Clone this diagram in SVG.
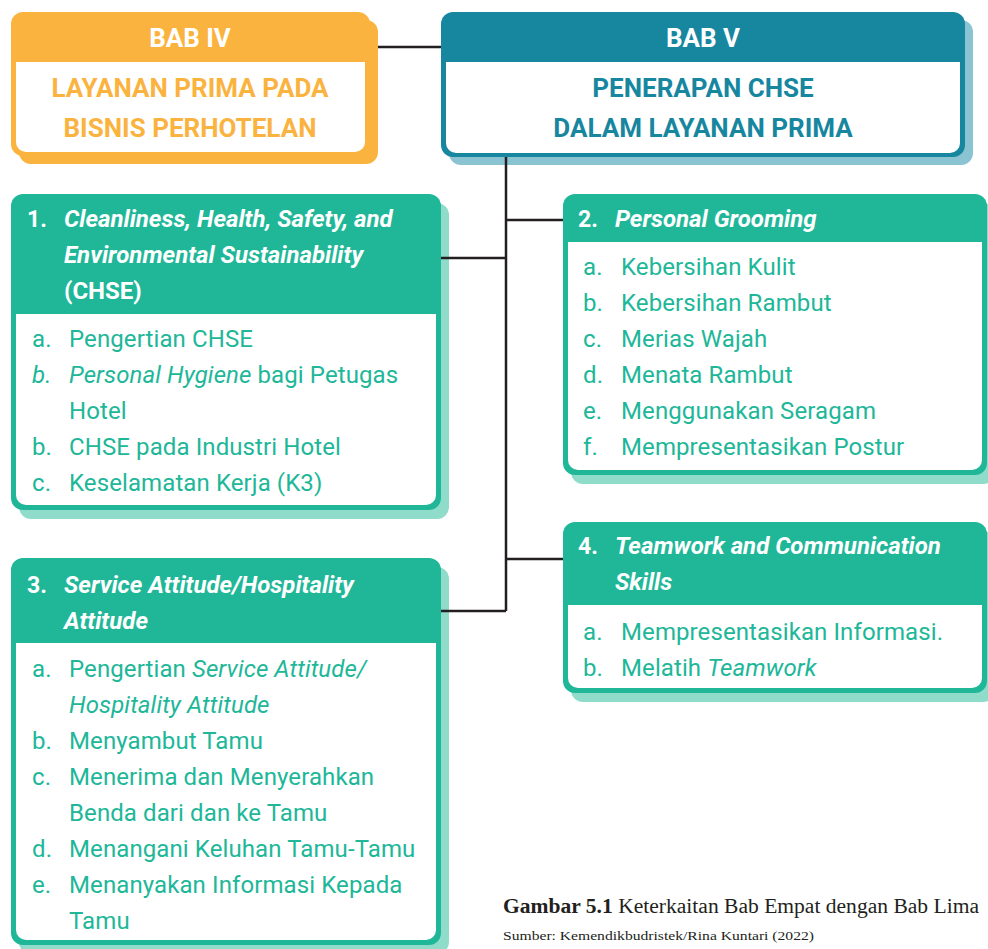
<svg xmlns="http://www.w3.org/2000/svg" width="988" height="949" viewBox="0 0 988 949">
  <style>
    .hdr { font-family: Roboto, "Noto Sans", sans-serif; font-weight: 700; font-size: 26px; text-anchor: middle; }
    .hw { fill: #ffffff; }
    .num { font-family: Roboto, "Noto Sans", sans-serif; font-weight: 700; font-size: 23px; fill: #ffffff; }
    .ttl { font-family: Roboto, "Noto Sans", sans-serif; font-weight: 700; font-style: italic; font-size: 24px; fill: #ffffff; }
    .up { font-style: normal; }
    .it { font-family: Roboto, "Noto Sans", sans-serif; font-size: 24px; letter-spacing: 0.1px; fill: #20B799; }
    .i { font-style: italic; }
    .conn { stroke: #231F20; stroke-width: 2.5; fill: none; }
    .cap { font-family: "Liberation Serif", "DejaVu Serif", serif; fill: #231F20; }
  </style>

  <!-- BAB IV -->
  <g id="bab4">
    <rect x="19" y="20" width="359" height="144" rx="12" fill="#FBB33F"/>
    <rect x="11" y="12" width="359" height="144" rx="12" fill="#FBB33F"/>
    <path d="M16,62 H365 V142 A10,10 0 0 1 355,152 H26 A10,10 0 0 1 16,142 Z" fill="#ffffff"/>
    <text class="hdr hw" x="190" y="47">BAB IV</text>
    <text class="hdr" x="190" y="97" fill="#FBB33F">LAYANAN PRIMA PADA</text>
    <text class="hdr" x="190" y="137" fill="#FBB33F">BISNIS PERHOTELAN</text>
  </g>

  <!-- BAB V -->
  <g id="bab5">
    <rect x="449" y="20" width="524" height="145" rx="12" fill="#8AC3D2"/>
    <rect x="441" y="12" width="524" height="145" rx="12" fill="#17869F"/>
    <path d="M446,62 H960 V143 A10,10 0 0 1 950,153 H456 A10,10 0 0 1 446,143 Z" fill="#ffffff"/>
    <text class="hdr hw" x="703" y="47">BAB V</text>
    <text class="hdr" x="703" y="97" fill="#17869F">PENERAPAN CHSE</text>
    <text class="hdr" x="703" y="137" fill="#17869F">DALAM LAYANAN PRIMA</text>
  </g>

  <!-- 1. CHSE -->
  <g id="topic1">
    <rect x="19" y="203" width="430" height="316" rx="12" fill="#8FDCCA"/>
    <rect x="11" y="194" width="430" height="316" rx="12" fill="#20B799"/>
    <path d="M16,314 H436 V495 A10,10 0 0 1 426,505 H26 A10,10 0 0 1 16,495 Z" fill="#ffffff"/>
    <text class="num" x="27" y="227">1.</text>
    <text class="ttl" x="64" y="227">Cleanliness, Health, Safety, and</text>
    <text class="ttl" x="64" y="263">Environmental Sustainability</text>
    <text class="ttl up" x="64" y="299">(CHSE)</text>
    <text class="it" x="32" y="347">a.</text>
    <text class="it" x="69" y="347">Pengertian CHSE</text>
    <text class="it i" x="32" y="383">b.</text>
    <text class="it" x="69" y="383"><tspan class="i">Personal Hygiene</tspan> bagi Petugas</text>
    <text class="it" x="69" y="419">Hotel</text>
    <text class="it" x="32" y="455">b.</text>
    <text class="it" x="69" y="455">CHSE pada Industri Hotel</text>
    <text class="it" x="32" y="491">c.</text>
    <text class="it" x="69" y="491">Keselamatan Kerja (K3)</text>
  </g>

  <!-- 2. Personal Grooming -->
  <g id="topic2">
    <rect x="571" y="203" width="424" height="281" rx="12" fill="#8FDCCA"/>
    <rect x="563" y="194" width="424" height="281" rx="12" fill="#20B799"/>
    <path d="M568,242 H982 V460 A10,10 0 0 1 972,470 H578 A10,10 0 0 1 568,460 Z" fill="#ffffff"/>
    <text class="num" x="578" y="227">2.</text>
    <text class="ttl" x="615" y="227">Personal Grooming</text>
    <text class="it" x="583" y="275">a.</text>
    <text class="it" x="621" y="275">Kebersihan Kulit</text>
    <text class="it" x="583" y="311">b.</text>
    <text class="it" x="621" y="311">Kebersihan Rambut</text>
    <text class="it" x="583" y="347">c.</text>
    <text class="it" x="621" y="347">Merias Wajah</text>
    <text class="it" x="583" y="383">d.</text>
    <text class="it" x="621" y="383">Menata Rambut</text>
    <text class="it" x="583" y="419">e.</text>
    <text class="it" x="621" y="419">Menggunakan Seragam</text>
    <text class="it" x="583" y="455">f.</text>
    <text class="it" x="621" y="455">Mempresentasikan Postur</text>
  </g>

  <!-- 3. Service Attitude -->
  <g id="topic3">
    <rect x="19" y="567" width="430" height="387" rx="12" fill="#8FDCCA"/>
    <rect x="11" y="558" width="430" height="387" rx="12" fill="#20B799"/>
    <path d="M16,643 H436 V930 A10,10 0 0 1 426,940 H26 A10,10 0 0 1 16,930 Z" fill="#ffffff"/>
    <text class="num" x="27" y="593">3.</text>
    <text class="ttl" x="64" y="593">Service Attitude/Hospitality</text>
    <text class="ttl" x="64" y="629">Attitude</text>
    <text class="it" x="32" y="677">a.</text>
    <text class="it" x="69" y="677">Pengertian <tspan class="i">Service Attitude/</tspan></text>
    <text class="it i" x="69" y="713">Hospitality Attitude</text>
    <text class="it" x="32" y="749">b.</text>
    <text class="it" x="69" y="749">Menyambut Tamu</text>
    <text class="it" x="32" y="785">c.</text>
    <text class="it" x="69" y="785">Menerima dan Menyerahkan</text>
    <text class="it" x="69" y="821">Benda dari dan ke Tamu</text>
    <text class="it" x="32" y="857">d.</text>
    <text class="it" x="69" y="857">Menangani Keluhan Tamu-Tamu</text>
    <text class="it" x="32" y="893">e.</text>
    <text class="it" x="69" y="893">Menanyakan Informasi Kepada</text>
    <text class="it" x="69" y="929">Tamu</text>
  </g>

  <!-- 4. Teamwork -->
  <g id="topic4">
    <rect x="571" y="531" width="424" height="171" rx="12" fill="#8FDCCA"/>
    <rect x="563" y="522" width="424" height="171" rx="12" fill="#20B799"/>
    <path d="M568,605 H982 V678 A10,10 0 0 1 972,688 H578 A10,10 0 0 1 568,678 Z" fill="#ffffff"/>
    <text class="num" x="578" y="554">4.</text>
    <text class="ttl" x="615" y="554">Teamwork and Communication</text>
    <text class="ttl" x="615" y="590">Skills</text>
    <text class="it" x="583" y="640">a.</text>
    <text class="it" x="621" y="640">Mempresentasikan Informasi.</text>
    <text class="it" x="583" y="676">b.</text>
    <text class="it" x="621" y="676">Melatih <tspan class="i">Teamwork</tspan></text>
  </g>

  <!-- connectors -->
  <g id="connectors">
    <path class="conn" d="M378,47 H441"/>
    <path class="conn" d="M506,157 V611"/>
    <path class="conn" d="M506,220 H563"/>
    <path class="conn" d="M441,258 H506"/>
    <path class="conn" d="M506,559 H563"/>
    <path class="conn" d="M441,611 H506"/>
  </g>

  <!-- caption -->
  <g id="caption">
    <text class="cap" x="503" y="913" font-size="20" textLength="476" lengthAdjust="spacingAndGlyphs"><tspan font-weight="700">Gambar 5.1</tspan> Keterkaitan Bab Empat dengan Bab Lima</text>
    <text class="cap" x="503" y="940" font-size="13.5" textLength="311" lengthAdjust="spacingAndGlyphs">Sumber: Kemendikbudristek/Rina Kuntari (2022)</text>
  </g>
</svg>
